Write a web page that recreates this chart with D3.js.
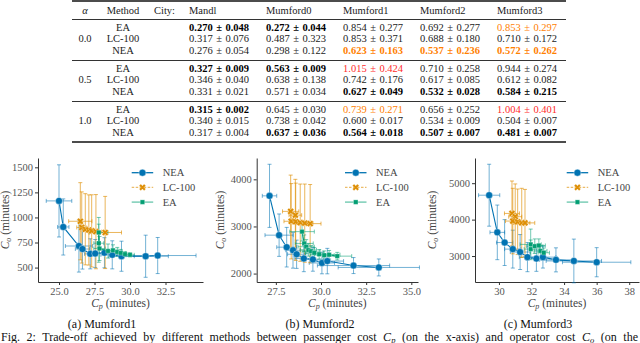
<!DOCTYPE html>
<html><head><meta charset="utf-8">
<script src="https://cdn.jsdelivr.net/npm/d3@7"></script>
<style>
body{margin:0;background:#fff}
svg{display:block}
text{font-family:"Liberation Serif","DejaVu Serif","Times New Roman",serif}
</style>
</head><body>
<svg id="c" width="640" height="343"></svg>
<script>
// ---------- table data ----------
const cities = ["Mandl", "Mumford0", "Mumford1", "Mumford2", "Mumford3"];
const alphas = ["0.0", "0.5", "1.0"];
const methods = ["EA", "LC-100", "NEA"];
// rows: alpha-major, then method (EA, LC-100, NEA); columns: cities
const tableMeans = [
  [0.270, 0.272, 0.854, 0.692, 0.853],
  [0.317, 0.487, 0.853, 0.688, 0.710],
  [0.276, 0.298, 0.623, 0.537, 0.572],
  [0.327, 0.563, 1.015, 0.710, 0.944],
  [0.346, 0.638, 0.742, 0.617, 0.612],
  [0.331, 0.571, 0.627, 0.532, 0.584],
  [0.315, 0.645, 0.739, 0.656, 1.004],
  [0.340, 0.738, 0.600, 0.534, 0.504],
  [0.317, 0.637, 0.564, 0.507, 0.481]
];
const tableStds = [
  [0.048, 0.044, 0.277, 0.277, 0.297],
  [0.076, 0.323, 0.371, 0.180, 0.172],
  [0.054, 0.122, 0.163, 0.236, 0.262],
  [0.009, 0.009, 0.424, 0.258, 0.274],
  [0.040, 0.138, 0.176, 0.085, 0.082],
  [0.021, 0.034, 0.049, 0.028, 0.215],
  [0.002, 0.030, 0.271, 0.252, 0.401],
  [0.015, 0.042, 0.017, 0.009, 0.007],
  [0.004, 0.036, 0.018, 0.007, 0.007]
];
// highlight codes: "" normal, "b" best, "o" flagged, "ob" best+flagged, "r" worst
const tableMarks = [
  ["b", "b", "", "", "o"],
  ["", "", "", "", ""],
  ["", "", "ob", "ob", "ob"],
  ["b", "b", "r", "", ""],
  ["", "", "", "", ""],
  ["", "", "b", "b", "b"],
  ["b", "", "o", "", "r"],
  ["", "", "", "", ""],
  ["", "b", "b", "b", "b"]
];

// ---------- plot data: [Cp, Co, Cp error, Co error] ----------
const seriesNames = ["NEA", "LC-100", "EA"];
const mumford1NEA = [[25.0,1165,0.9,360],[25.3,905,0.4,280],[26.4,715,0.95,260],[26.65,685,0.5,200],[27.2,637,0.4,150],[27.55,640,0.5,140],[28.2,648,0.9,150],[28.75,627,0.8,140],[29.4,613,0.9,150],[31.1,613,1.6,210],[31.95,620,2.7,180]];
const mumford1LC = [[26.5,962,0.82,385],[26.6,900,0.35,355],[26.85,882,0.35,355],[27.1,875,0.3,350],[27.3,866,0.35,360],[27.6,858,0.4,370],[28.25,850,1.15,360]];
const mumford1EA = [[27.8,850,0.65,150],[27.8,743,0.35,190],[27.85,690,0.4,120],[28.45,665,0.4,70],[28.8,672,0.35,55],[29.1,656,0.35,45],[29.35,646,0.35,35],[29.65,634,0.3,25],[30.0,627,0.3,20]];

const mumford2NEA = [[27.15,3650,0.4,670],[27.68,2815,0.78,450],[28.1,2560,0.55,420],[28.45,2495,0.4,380],[28.65,2410,0.5,300],[29.05,2320,0.5,280],[29.55,2300,0.6,250],[30.05,2225,0.7,230],[30.35,2265,0.9,270],[31.8,2170,2.0,170],[33.2,2130,2.25,180]];
const mumford2LC = [[28.32,3320,0.45,770],[28.58,3240,0.35,760],[28.35,3110,0.4,800],[28.6,3100,0.35,820],[28.85,3080,0.4,820],[29.1,3070,0.45,830],[29.4,3060,0.6,830]];
const mumford2EA = [[28.95,2890,0.68,200],[29.07,2640,0.5,180],[29.18,2570,0.45,150],[29.3,2500,0.45,130],[29.45,2475,0.5,120],[29.63,2440,0.5,110],[29.9,2410,0.5,100],[30.18,2390,0.55,90],[30.45,2400,0.6,90],[30.9,2370,0.8,80]];

const mumford3NEA = [[29.4,4670,0.65,850],[29.9,3650,0.45,750],[30.35,3370,0.5,630],[30.85,3190,0.5,520],[31.3,3110,0.6,480],[31.75,2970,0.5,400],[32.3,2930,0.6,350],[32.7,2970,0.8,300],[33.5,2895,1.0,330],[34.6,2865,1.7,600],[36.0,2830,2.1,400]];
const mumford3LC = [[30.8,4170,0.46,890],[31.0,4080,0.4,900],[30.85,3960,0.45,900],[31.15,3940,0.4,900],[31.4,3910,0.5,950],[31.6,3910,0.6,920]];
const mumford3EA = [[31.95,3320,0.65,420],[31.95,3190,0.4,250],[32.2,3270,0.5,200],[32.45,3290,0.4,180],[32.55,3140,0.4,150],[32.75,3090,0.35,130]];

const xTicks1 = [25, 27.5, 30, 32.5], yTicks1 = [500, 750, 1000, 1250, 1500];
const xTicks2 = [27.5, 30, 32.5, 35], yTicks2 = [2000, 3000, 4000];
const xTicks3 = [30, 32, 34, 36, 38], yTicks3 = [3000, 4000, 5000];
const captions = ["(a) Mumford1", "(b) Mumford2", "(c) Mumford3"];

// ---------- drawing ----------
const svg = d3.select("#c");
const colors = {"NEA": "#0173b2", "LC-100": "#de8f05", "EA": "#029e73"};

// table
const colX = [189, 266, 343, 420, 497];
const tFont = 10.5;
const tg = svg.append("g");
tg.append("line").attr("x1", 72).attr("x2", 566).attr("y1", 1).attr("y2", 1).attr("stroke", "#111").attr("stroke-width", 1.6);
[19.5, 60.5, 101.5].forEach(y => tg.append("line").attr("x1", 72).attr("x2", 566).attr("y1", y).attr("y2", y).attr("stroke", "#333").attr("stroke-width", 1.2));
tg.append("line").attr("x1", 72).attr("x2", 566).attr("y1", 142).attr("y2", 142).attr("stroke", "#111").attr("stroke-width", 1.6);

tg.append("text").attr("x", 85).attr("y", 13.5).attr("text-anchor", "middle").attr("font-size", tFont).attr("font-style", "italic").attr("fill", "#222").text("α");
tg.append("text").attr("x", 123).attr("y", 13.5).attr("text-anchor", "middle").attr("font-size", tFont).attr("fill", "#222").text("Method");
tg.append("text").attr("x", 154).attr("y", 13.5).attr("font-size", tFont).attr("fill", "#222").text("City:");
cities.forEach((c, i) => tg.append("text").attr("x", colX[i]).attr("y", 13.5).attr("font-size", tFont).attr("fill", "#222").text(c));

const blockY = [30.5, 71.6, 112.6], rowStep = 11.6;
const fmt3 = d3.format(".3f");
alphas.forEach((a, b) => {
  tg.append("text").attr("x", 85).attr("y", blockY[b] + rowStep).attr("text-anchor", "middle").attr("font-size", tFont).attr("fill", "#222").text(a);
  methods.forEach((m, r) => {
    const y = blockY[b] + r * rowStep;
    tg.append("text").attr("x", 123).attr("y", y).attr("text-anchor", "middle").attr("font-size", tFont).attr("fill", "#222").text(m);
    const row = b * 3 + r;
    cities.forEach((c, i) => {
      const mk = tableMarks[row][i];
      const fill = mk.includes("o") ? "#ff8000" : (mk === "r" ? "#ff2b2b" : (mk.includes("b") ? "#000" : "#222"));
      tg.append("text").attr("x", colX[i]).attr("y", y).attr("font-size", tFont)
        .attr("font-weight", mk.includes("b") ? "bold" : "normal").attr("fill", fill)
        .text(fmt3(tableMeans[row][i]) + "\u2004±\u2004" + fmt3(tableStds[row][i]));
    });
  });
});

// panels
const panels = [
  {nea: mumford1NEA, lc: mumford1LC, ea: mumford1EA, xd: [23.52, 35.14], xr: [38, 203], yd: [356, 1593], xt: xTicks1, yt: yTicks1, xf: d3.format(".1f"), ylx: 9, legX: 131.7, capX: 102},
  {nea: mumford2NEA, lc: mumford2LC, ea: mumford2EA, xd: [26.44, 35.37], xr: [256.7, 418], yd: [1821, 4453], xt: xTicks2, yt: yTicks2, xf: d3.format(".1f"), ylx: 224, legX: 345, capX: 320},
  {nea: mumford3NEA, lc: mumford3LC, ea: mumford3EA, xd: [28.53, 38.6], xr: [475, 639], yd: [2287, 5692], xt: xTicks3, yt: yTicks3, xf: d3.format("d"), ylx: 436, legX: 566.7, capX: 538}
];
const yRange = [282, 158];

function marker(g, name, cx, cy) {
  const col = colors[name];
  if (name === "NEA") {
    g.append("circle").attr("cx", cx).attr("cy", cy).attr("r", 3.5).attr("fill", col).attr("stroke", "#fff").attr("stroke-width", 0.4);
  } else if (name === "LC-100") {
    g.append("path").attr("d", d3.symbol().type(d3.symbolCross).size(28)()).attr("transform", `translate(${cx},${cy}) rotate(45)`).attr("fill", col).attr("stroke", "#fff").attr("stroke-width", 0.3);
  } else {
    g.append("path").attr("d", d3.symbol().type(d3.symbolSquare).size(20)()).attr("transform", `translate(${cx},${cy})`).attr("fill", col).attr("stroke", "#fff").attr("stroke-width", 0.3);
  }
}

panels.forEach((p, pi) => {
  const x = d3.scaleLinear().domain(p.xd).range(p.xr);
  const y = d3.scaleLinear().domain(p.yd).range(yRange);
  const g = svg.append("g");

  const ax = g.append("g").attr("transform", `translate(0,${yRange[0]})`)
    .call(d3.axisBottom(x).tickValues(p.xt).tickFormat(p.xf).tickSize(3).tickSizeOuter(0).tickPadding(3));
  const ay = g.append("g").attr("transform", `translate(${p.xr[0]},0)`)
    .call(d3.axisLeft(y).tickValues(p.yt).tickFormat(d3.format("d")).tickSize(3).tickSizeOuter(0).tickPadding(2));
  [ax, ay].forEach(a => {
    a.attr("font-family", null);
    a.select(".domain").attr("stroke", "#333").attr("stroke-width", 1);
    a.selectAll(".tick line").attr("stroke", "#333");
    a.selectAll(".tick text").attr("font-size", 10.5).attr("fill", "#555");
  });

  // axis labels
  const xl = g.append("text").attr("x", (p.xr[0] + p.xr[1]) / 2).attr("y", 307).attr("text-anchor", "middle").attr("font-size", 11.5).attr("fill", "#444");
  xl.append("tspan").attr("font-style", "italic").text("C");
  xl.append("tspan").attr("font-style", "italic").attr("font-size", 8).attr("dy", 2).text("p");
  xl.append("tspan").attr("dy", -2).text(" (minutes)");
  const yl = g.append("text").attr("transform", `translate(${p.ylx},220) rotate(-90)`).attr("text-anchor", "middle").attr("font-size", 11.5).attr("fill", "#444");
  yl.append("tspan").attr("font-style", "italic").text("C");
  yl.append("tspan").attr("font-style", "italic").attr("font-size", 8).attr("dy", 2).text("o");
  yl.append("tspan").attr("dy", -2).text(" (minutes)");

  const series = [["NEA", p.nea], ["LC-100", p.lc], ["EA", p.ea]];
  // error bars
  series.forEach(([name, data]) => {
    const eg = g.append("g").attr("stroke", colors[name]).attr("stroke-opacity", name === "LC-100" ? 0.65 : 0.55).attr("stroke-width", 1);
    data.forEach(d => {
      const cx = x(d[0]), cy = y(d[1]);
      const y0 = y(d[1] - d[3]), y1 = y(d[1] + d[3]);
      const x0 = x(d[0] - d[2]), x1 = x(d[0] + d[2]);
      eg.append("line").attr("x1", cx).attr("x2", cx).attr("y1", y0).attr("y2", y1);
      eg.append("line").attr("x1", cx - 2).attr("x2", cx + 2).attr("y1", y0).attr("y2", y0);
      eg.append("line").attr("x1", cx - 2).attr("x2", cx + 2).attr("y1", y1).attr("y2", y1);
      eg.append("line").attr("x1", x0).attr("x2", x1).attr("y1", cy).attr("y2", cy);
      eg.append("line").attr("x1", x0).attr("x2", x0).attr("y1", cy - 2).attr("y2", cy + 2);
      eg.append("line").attr("x1", x1).attr("x2", x1).attr("y1", cy - 2).attr("y2", cy + 2);
    });
  });
  // lines + markers
  const line = d3.line().x(d => x(d[0])).y(d => y(d[1]));
  series.forEach(([name, data]) => {
    g.append("path").attr("d", line(data)).attr("fill", "none").attr("stroke", colors[name]).attr("stroke-width", 1.1)
      .attr("stroke-dasharray", name === "LC-100" ? "2.5,1.5" : null);
    const mg = g.append("g");
    data.forEach(d => marker(mg, name, x(d[0]), y(d[1])));
  });

  // legend
  const lg = g.append("g");
  seriesNames.forEach((name, i) => {
    const ly = 172.7 + i * 14.7;
    lg.append("line").attr("x1", p.legX).attr("x2", p.legX + 21.5).attr("y1", ly).attr("y2", ly)
      .attr("stroke", colors[name]).attr("stroke-width", 1.3).attr("stroke-opacity", name === "NEA" ? 1 : 0.6)
      .attr("stroke-dasharray", name === "LC-100" ? "2.5,1.5" : null);
    marker(lg, name, p.legX + 10.75, ly);
    lg.append("text").attr("x", p.legX + 31).attr("y", ly + 3.6).attr("font-size", 10.5).attr("fill", "#444").text(name);
  });

  svg.append("text").attr("x", p.capX).attr("y", 328).attr("text-anchor", "middle").attr("font-size", 12).attr("fill", "#111").text(captions[pi]);
});

// figure caption, justified to the frame width
const fc = svg.append("text").attr("x", 1).attr("y", 340.5).attr("font-size", 12).attr("fill", "#111");
fc.append("tspan").text("Fig. 2: Trade-off achieved by different methods between passenger cost ");
fc.append("tspan").attr("font-style", "italic").text("C");
fc.append("tspan").attr("font-style", "italic").attr("font-size", 8.5).attr("dy", 2).text("p");
fc.append("tspan").attr("dy", -2).text(" (on the x-axis) and operator cost ");
fc.append("tspan").attr("font-style", "italic").text("C");
fc.append("tspan").attr("font-style", "italic").attr("font-size", 8.5).attr("dy", 2).text("o");
fc.append("tspan").attr("dy", -2).text(" (on the");
const w = fc.node().getComputedTextLength();
const nSpaces = 19;
if (w < 637) fc.attr("word-spacing", (637 - w) / nSpaces);
</script>
</body></html>
